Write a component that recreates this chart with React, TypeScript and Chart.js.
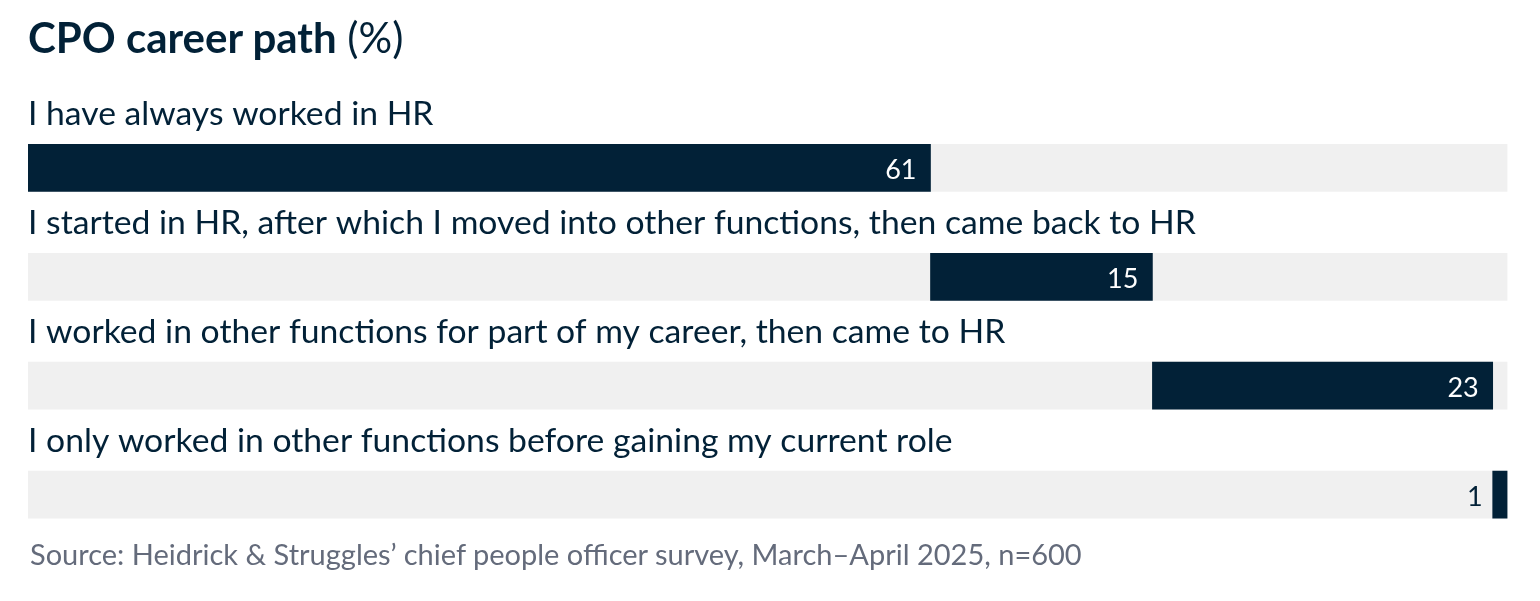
import React, { useEffect, useRef } from "react";
import { Chart, registerables } from "chart.js";

Chart.register(...registerables);

const categories = [
  "I have always worked in HR",
  "I started in HR, after which I moved into other functions, then came back to HR",
  "I worked in other functions for part of my career, then came to HR",
  "I only worked in other functions before gaining my current role",
];
const values = [61, 15, 23, 1];
const totals = [100, 100, 100, 100];

const TITLE_BOLD = "CPO career path";
const TITLE_REGULAR = " (%)";
const SOURCE = "Source: Heidrick & Struggles\u2019 chief people officer survey, March\u2013April 2025, n=600";

const NAVY = "#022137";
const TRACK = "#f0f0f0";
const FONT = "Lato, 'Noto Sans', sans-serif";

export default function App() {
  const canvasRef = useRef<HTMLCanvasElement | null>(null);

  useEffect(() => {
    if (!canvasRef.current) return;
    const starts: number[] = [];
    let acc = 0;
    values.forEach((v) => {
      starts.push(acc);
      acc += v;
    });

    const labelPlugin = {
      id: "rowLabels",
      afterDatasetsDraw(chart: any) {
        const ctx = chart.ctx;
        const meta = chart.getDatasetMeta(0);
        ctx.save();
        meta.data.forEach((bar: any, i: number) => {
          const top = bar.y - bar.height / 2;
          ctx.font = `400 33.7px ${FONT}`;
          ctx.fillStyle = NAVY;
          ctx.textAlign = "left";
          ctx.textBaseline = "alphabetic";
          ctx.fillText(categories[i], chart.chartArea.left, top - 19.5);

          const left = Math.min(bar.x, bar.base);
          const right = Math.max(bar.x, bar.base);
          ctx.font = `400 27px ${FONT}`;
          ctx.textAlign = "right";
          ctx.textBaseline = "alphabetic";
          const label = String(values[i]);
          const w = ctx.measureText(label).width;
          if (right - left > w + 20) {
            ctx.fillStyle = "#ffffff";
            ctx.fillText(label, right - 14, bar.y + 11);
          } else {
            ctx.fillStyle = NAVY;
            ctx.fillText(label, left - 10, bar.y + 11);
          }
        });
        ctx.restore();
      },
    };

    const chart = new Chart(canvasRef.current, {
      type: "bar",
      data: {
        labels: categories,
        datasets: [
          {
            label: "Share",
            data: categories.map((_, i) => [starts[i], starts[i] + values[i]]) as any,
            backgroundColor: NAVY,
            barThickness: 47,
            grouped: false,
            order: 0,
          },
          {
            label: "Track",
            data: categories.map((_, i) => [0, totals[i]]) as any,
            backgroundColor: TRACK,
            barThickness: 47,
            grouped: false,
            order: 1,
          },
        ],
      },
      options: {
        indexAxis: "y",
        animation: false,
        responsive: false,
        maintainAspectRatio: false,
        layout: { padding: { left: 28, right: 32.5, top: 113.5, bottom: 52 } },
        scales: {
          x: { display: false, min: 0, max: 100 },
          y: { display: false, offset: true },
        },
        plugins: {
          legend: { display: false },
          tooltip: { enabled: false },
          title: { display: false },
        },
      },
      plugins: [labelPlugin],
    });
    return () => chart.destroy();
  }, []);

  return (
    <div
      style={{
        position: "fixed",
        left: 0,
        top: 0,
        width: 1540,
        height: 601,
        background: "#ffffff",
        overflow: "hidden",
      }}
    >
      <canvas
        ref={canvasRef}
        width={1540}
        height={601}
        style={{ position: "absolute", left: 0, top: 0, width: 1540, height: 601 }}
      />
      <div
        style={{
          position: "absolute",
          left: 28,
          top: 16,
          fontFamily: FONT,
          fontSize: 42,
          lineHeight: 1,
          color: NAVY,
          whiteSpace: "nowrap",
        }}
      >
        <span style={{ fontWeight: 700 }}>{TITLE_BOLD}</span>
        <span style={{ fontWeight: 400 }}>{TITLE_REGULAR}</span>
      </div>
      <div
        style={{
          position: "absolute",
          left: 30,
          top: 539,
          fontFamily: FONT,
          fontSize: 29,
          lineHeight: 1,
          color: "#646b7b",
          whiteSpace: "nowrap",
        }}
      >
        {SOURCE}
      </div>
    </div>
  );
}
